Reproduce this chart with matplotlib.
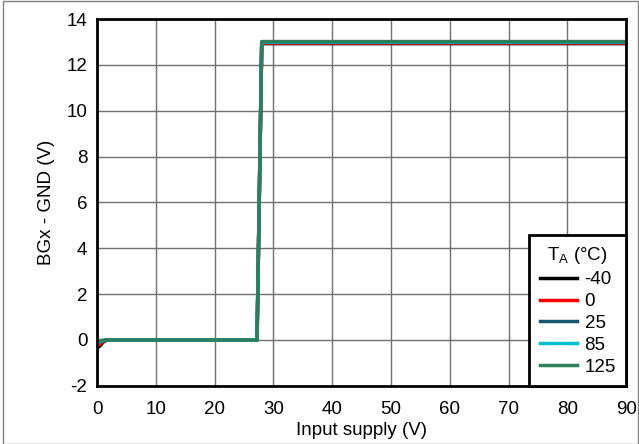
import matplotlib.pyplot as plt

plt.rcParams['font.family'] = ['Liberation Sans', 'DejaVu Sans']
plt.rcParams['axes.unicode_minus'] = False

# Output voltage vs input supply, one curve per temperature
temps = ['-40', '0', '25', '85', '125']
colors = ['#000000', '#ff0000', '#1a5670', '#00c0d0', '#2e7d5b']
vin = [0, 0.5, 1.0, 1.5, 2.0, 27.0, 27.2, 28.0, 90]
bg = {
    '-40': [-0.35, -0.25, -0.1, -0.02, 0.0, 0.0, 0.0, 12.93, 12.93],
    '0':   [-0.25, -0.18, -0.08, -0.02, 0.0, 0.0, 0.0, 12.95, 12.95],
    '25':  [-0.15, -0.1, -0.05, 0.0, 0.0, 0.0, 0.0, 12.98, 12.98],
    '85':  [-0.1, -0.06, -0.03, 0.0, 0.0, 0.0, 0.0, 13.0, 13.0],
    '125': [-0.05, -0.03, -0.01, 0.0, 0.0, 0.0, 0.0, 13.02, 13.02],
}

fig = plt.figure(figsize=(6.39, 4.44), dpi=100)
ax = fig.add_axes([0.152, 0.131, 0.828, 0.826])

for t, c in zip(temps, colors):
    ax.plot(vin, bg[t], color=c, linewidth=2.5, label=t)

ax.set_xlim(0, 90)
ax.set_ylim(-2, 14)
ax.set_xticks(range(0, 91, 10))
ax.set_yticks(range(-2, 15, 2))
ax.grid(True, color='#707070', linewidth=1)
ax.set_axisbelow(True)
for s in ax.spines.values():
    s.set_linewidth(2)
ax.tick_params(length=0, labelsize=13.5)
ax.tick_params(axis='x', pad=11)
ax.tick_params(axis='y', pad=7)
ax.set_xlabel('Input supply (V)', fontsize=13.5, labelpad=3)
ax.set_ylabel('BGx - GND (V)', fontsize=13.5, labelpad=8)

leg = ax.legend(title='T$_\\mathregular{A}$ (°C)', loc='lower right', fontsize=13.5,
                title_fontsize=13.5, fancybox=False, framealpha=1, edgecolor='black',
                borderaxespad=0, handlelength=2.0, labelspacing=0.25,
                borderpad=0.55, handletextpad=0.4)
leg.get_frame().set_linewidth(2)

fig.patches.append(plt.Rectangle((0.004, 0.0), 0.995, 0.997, transform=fig.transFigure,
                                 fill=False, edgecolor='#808080', linewidth=1))

fig.savefig('out.png', dpi=100)
